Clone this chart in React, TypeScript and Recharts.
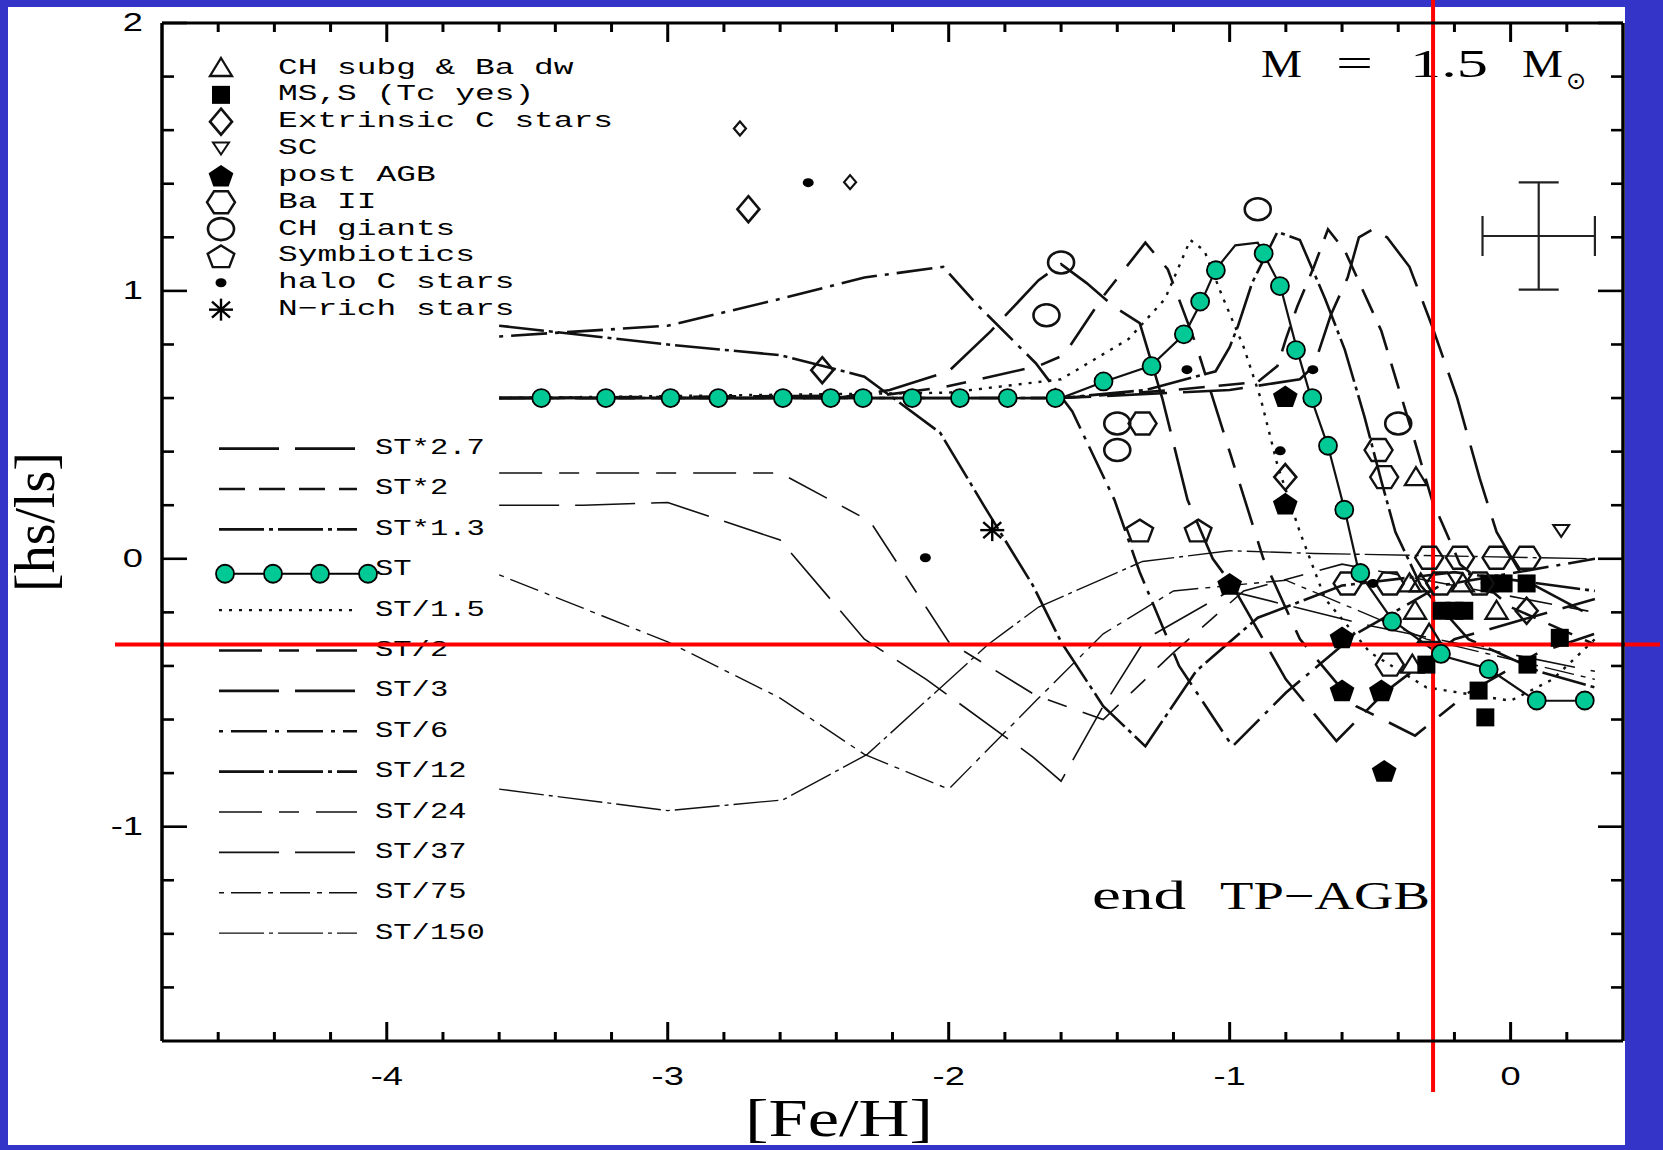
import React from 'react'
import {
  ComposedChart,
  Line,
  Scatter,
  XAxis,
  YAxis,
  ReferenceLine,
  ErrorBar,
} from 'recharts'

type P = [number, number]

// ---- model curves ([Fe/H], [hs/ls]) ----
const ST_X27: P[] = [[-3.6, 0.6], [-1.6, 0.6], [-1.0, 0.63], [-0.75, 0.67], [-0.7, 0.72], [-0.64, 0.91], [-0.58, 1.05], [-0.54, 1.2], [-0.49, 1.23], [-0.44, 1.2], [-0.36, 1.09], [-0.28, 0.87], [-0.19, 0.6], [-0.11, 0.3], [-0.05, 0.1], [0.05, -0.08], [0.3, -0.22]]
const ST_X2: P[] = [[-3.6, 0.6], [-1.6, 0.6], [-1.2, 0.63], [-0.9, 0.66], [-0.83, 0.72], [-0.8, 0.82], [-0.76, 0.94], [-0.7, 1.09], [-0.65, 1.23], [-0.59, 1.15], [-0.46, 0.85], [-0.35, 0.47], [-0.28, 0.22], [-0.18, -0.02], [0.0, -0.18], [0.3, -0.32]]
const ST_X13: P[] = [[-3.6, 0.6], [-1.6, 0.6], [-1.3, 0.63], [-1.05, 0.7], [-1.0, 0.79], [-0.97, 0.87], [-0.92, 1.03], [-0.83, 1.22], [-0.75, 1.19], [-0.66, 0.97], [-0.59, 0.78], [-0.52, 0.53], [-0.46, 0.29], [-0.41, 0.1], [-0.32, -0.1], [-0.15, -0.3], [0.1, -0.42], [0.3, -0.48]]
const ST_LINE: P[] = [[-3.6, 0.6], [-1.6, 0.6], [-1.45, 0.66], [-1.28, 0.72], [-1.16, 0.84], [-1.1, 0.96], [-1.05, 1.08], [-0.98, 1.17], [-0.9, 1.18], [-0.82, 1.02], [-0.76, 0.78], [-0.71, 0.6], [-0.65, 0.42], [-0.59, 0.18], [-0.54, -0.05], [-0.42, -0.23], [-0.25, -0.36], [-0.08, -0.41], [0.09, -0.53], [0.26, -0.53]]
const ST_D15: P[] = [[-3.6, 0.6], [-2.0, 0.62], [-1.6, 0.67], [-1.36, 0.82], [-1.23, 0.97], [-1.14, 1.19], [-1.09, 1.15], [-1.03, 0.99], [-0.95, 0.79], [-0.89, 0.6], [-0.83, 0.35], [-0.75, 0.1], [-0.66, -0.15], [-0.5, -0.35], [-0.3, -0.48], [0.0, -0.53], [0.15, -0.45], [0.3, -0.3]]
const ST_D2: P[] = [[-3.6, 0.6], [-2.24, 0.61], [-2.02, 0.64], [-1.68, 0.72], [-1.59, 0.76], [-1.45, 0.98], [-1.3, 1.18], [-1.22, 1.08], [-1.12, 0.8], [-1.0, 0.4], [-0.88, 0.0], [-0.75, -0.3], [-0.55, -0.55], [-0.34, -0.66], [-0.15, -0.5], [0.1, -0.35], [0.3, -0.28]]
const ST_D3: P[] = [[-3.6, 0.6], [-2.4, 0.6], [-2.21, 0.63], [-2.0, 0.7], [-1.85, 0.85], [-1.68, 1.04], [-1.6, 1.1], [-1.51, 1.03], [-1.41, 0.94], [-1.32, 0.88], [-1.24, 0.6], [-1.15, 0.22], [-1.06, 0.0], [-0.99, -0.1], [-0.8, -0.45], [-0.62, -0.68], [-0.45, -0.5], [-0.2, -0.3], [0.3, -0.15]]
const ST_D6: P[] = [[-3.6, 0.83], [-3.0, 0.87], [-2.6, 0.97], [-2.3, 1.05], [-2.02, 1.09], [-1.9, 0.95], [-1.69, 0.73], [-1.56, 0.55], [-1.41, 0.22], [-1.32, -0.05], [-1.18, -0.4], [-0.99, -0.7], [-0.8, -0.5], [-0.55, -0.28], [-0.25, -0.1], [0.3, 0.0]]
const ST_D12: P[] = [[-3.6, 0.87], [-3.0, 0.8], [-2.6, 0.76], [-2.3, 0.68], [-2.03, 0.47], [-1.87, 0.19], [-1.7, -0.1], [-1.6, -0.31], [-1.45, -0.55], [-1.3, -0.7], [-1.12, -0.42], [-0.9, -0.22], [-0.6, -0.1], [-0.2, -0.05], [0.3, -0.12]]
const ST_D24: P[] = [[-3.6, 0.32], [-2.6, 0.32], [-2.28, 0.14], [-2.0, -0.31], [-1.69, -0.51], [-1.45, -0.6], [-1.2, -0.35], [-0.95, -0.12], [-0.6, -0.02], [0.3, -0.2]]
const ST_D37: P[] = [[-3.6, 0.2], [-3.3, 0.2], [-3.0, 0.21], [-2.6, 0.07], [-2.3, -0.3], [-2.08, -0.45], [-1.7, -0.74], [-1.6, -0.83], [-1.45, -0.55], [-1.3, -0.3], [-1.0, -0.12], [-0.5, -0.25], [0.3, -0.42]]
const ST_D75: P[] = [[-3.6, -0.06], [-3.0, -0.31], [-2.6, -0.52], [-2.3, -0.73], [-2.0, -0.86], [-1.68, -0.52], [-1.45, -0.28], [-1.2, -0.12], [-0.8, -0.08], [-0.3, -0.3], [0.3, -0.45]]
const ST_D150: P[] = [[-3.6, -0.86], [-3.0, -0.94], [-2.59, -0.9], [-2.29, -0.73], [-1.86, -0.32], [-1.68, -0.18], [-1.31, -0.01], [-1.0, 0.03], [-0.7, 0.02], [0.3, 0.0]]

// green markers placed on the ST curve
const ST_MARKS: P[] = [[-3.45, 0.6], [-3.22, 0.6], [-2.99, 0.6], [-2.82, 0.6], [-2.59, 0.6], [-2.42, 0.6], [-2.305, 0.6], [-2.13, 0.6], [-1.96, 0.6], [-1.79, 0.6], [-1.62, 0.6], [-1.449, 0.662], [-1.278, 0.719], [-1.163, 0.838], [-1.105, 0.96], [-1.049, 1.077], [-0.879, 1.14], [-0.821, 1.018], [-0.764, 0.779], [-0.706, 0.6], [-0.65, 0.422], [-0.592, 0.183], [-0.535, -0.053], [-0.422, -0.234], [-0.248, -0.355], [-0.078, -0.412], [0.093, -0.529], [0.264, -0.529]]

// ---- observed stars ----
const CH_SUBG: P[] = [[-0.337, 0.305], [-0.36, -0.092], [-0.32, -0.092], [-0.17, -0.092], [-0.34, -0.194], [-0.05, -0.194], [-0.29, -0.28], [-0.35, -0.395]]
const MS_S: P[] = [[-0.075, -0.092], [-0.025, -0.092], [0.057, -0.092], [-0.245, -0.194], [-0.2, -0.194], [-0.165, -0.194], [0.175, -0.295], [-0.3, -0.395], [0.06, -0.395], [-0.114, -0.492], [-0.09, -0.592]]
const EXTR_C: P[] = [[-2.713, 1.305], [-2.45, 0.704], [-0.802, 0.305], [0.057, -0.194]]
const EXTR_C_SMALL: P[] = [[-2.743, 1.606], [-2.351, 1.406]]
const SC_STARS: P[] = [[0.18, 0.104]]
const POST_AGB: P[] = [[-0.802, 0.608], [-0.802, 0.207], [-1.0, -0.092], [-0.6, -0.292], [-0.6, -0.49], [-0.46, -0.49], [-0.45, -0.79]]
const BA_II: P[] = [[-1.31, 0.505], [-0.47, 0.406], [-0.45, 0.305], [-0.29, 0.004], [-0.18, 0.004], [-0.05, 0.004], [0.057, 0.004], [-0.58, -0.092], [-0.43, -0.092], [-0.25, -0.092], [-0.11, -0.092], [-0.43, -0.395]]
const CH_GIANTS: P[] = [[-0.9, 1.305], [-1.6, 1.106], [-1.652, 0.909], [-1.4, 0.505], [-1.4, 0.406], [-0.4, 0.505]]
const SYMBIOTICS: P[] = [[-1.32, 0.107], [-1.112, 0.107]]
const HALO_C: P[] = [[-2.5, 1.404], [-1.152, 0.706], [-0.704, 0.706], [-0.82, 0.403], [-2.083, 0.004], [-0.49, -0.092]]
const N_RICH: P[] = [[-1.845, 0.107]]

// typical error bar
const ERR_CROSS = [{ x: 0.1, y: 1.205, ex: 0.2, ey: 0.2 }]

// red guide lines
const RED_X = -0.276
const RED_Y = -0.32

const X_TICKS = [-4.6, -4.4, -4.2, -4, -3.8, -3.6, -3.4, -3.2, -3, -2.8, -2.6, -2.4, -2.2, -2, -1.8, -1.6, -1.4, -1.2, -1, -0.8, -0.6, -0.4, -0.2, 0, 0.2]
const Y_TICKS = [-1.6, -1.4, -1.2, -1, -0.8, -0.6, -0.4, -0.2, 0, 0.2, 0.4, 0.6, 0.8, 1, 1.2, 1.4, 1.6, 1.8, 2]
const X_LABELS = [-4, -3, -2, -1, 0]
const Y_LABELS = [-1, 0, 1, 2]

const W = 1663
const H = 1150
const X_GAP = 14
const Y_GAP = 19
const INK = '#111'
const GREEN = '#00c995'
const SANS = '"Liberation Sans", Arial, sans-serif'
const SERIF = '"Liberation Serif", "Times New Roman", serif'
const MONO = '"Liberation Mono", "Courier New", monospace'

const pts = (a: P[]) => a.map(([x, y]) => ({ x, y }))
const near = (v: number, arr: number[]) => arr.some((a) => Math.abs(a - v) < 1e-6)

const CURVES = [
  { name: 'ST*2.7', data: ST_X27, dash: '60 16', w: 2.6 },
  { name: 'ST*2', data: ST_X2, dash: '26 14', w: 2.6 },
  { name: 'ST*1.3', data: ST_X13, dash: '45 5 4 5', w: 2.6 },
  { name: 'ST', data: ST_LINE, dash: '', w: 2.2 },
  { name: 'ST/1.5', data: ST_D15, dash: '3 7', w: 2.4 },
  { name: 'ST/2', data: ST_D2, dash: '43 17 20 17', w: 2.6 },
  { name: 'ST/3', data: ST_D3, dash: '60 16', w: 2.6 },
  { name: 'ST/6', data: ST_D6, dash: '4 8 36 8', w: 2.6 },
  { name: 'ST/12', data: ST_D12, dash: '45 5 4 5', w: 2.6 },
  { name: 'ST/24', data: ST_D24, dash: '43 17 20 17', w: 1.6 },
  { name: 'ST/37', data: ST_D37, dash: '60 16', w: 1.6 },
  { name: 'ST/75', data: ST_D75, dash: '5 7 30 7', w: 1.4 },
  { name: 'ST/150', data: ST_D150, dash: '45 5 4 5', w: 1.4 },
]

const pent = (cx: number, cy: number, rx: number, ry: number) =>
  [-90, -18, 54, 126, 198]
    .map((a) => {
      const r = (a * Math.PI) / 180
      return `${cx + rx * Math.cos(r)},${cy + 1.5 + ry * Math.sin(r)}`
    })
    .join(' ')

function Sym({ kind, cx, cy }: { kind: string; cx: number; cy: number }) {
  switch (kind) {
    case 'tri':
      return <polygon points={`${cx},${cy - 10} ${cx + 11},${cy + 8} ${cx - 11},${cy + 8}`} fill="none" stroke={INK} strokeWidth={2.3} />
    case 'sq':
      return <rect x={cx - 9} y={cy - 9} width={18} height={18} fill="#000" />
    case 'dia':
      return <polygon points={`${cx},${cy - 13} ${cx + 11},${cy} ${cx},${cy + 13} ${cx - 11},${cy}`} fill="none" stroke={INK} strokeWidth={2.6} />
    case 'diaS':
      return <polygon points={`${cx},${cy - 7} ${cx + 6},${cy} ${cx},${cy + 7} ${cx - 6},${cy}`} fill="none" stroke={INK} strokeWidth={2.2} />
    case 'sc':
      return <polygon points={`${cx - 8},${cy - 6} ${cx + 8},${cy - 6} ${cx},${cy + 6}`} fill="none" stroke={INK} strokeWidth={2} />
    case 'pentF':
      return <polygon points={pent(cx, cy, 13, 12)} fill="#000" />
    case 'hex':
      return <polygon points={`${cx - 14},${cy} ${cx - 7},${cy - 11} ${cx + 7},${cy - 11} ${cx + 14},${cy} ${cx + 7},${cy + 11} ${cx - 7},${cy + 11}`} fill="none" stroke={INK} strokeWidth={2.4} />
    case 'circ':
      return <ellipse cx={cx} cy={cy} rx={13} ry={11} fill="none" stroke={INK} strokeWidth={2.6} />
    case 'pentO':
      return <polygon points={pent(cx, cy, 14, 12)} fill="none" stroke={INK} strokeWidth={2.4} />
    case 'dot':
      return <ellipse cx={cx} cy={cy} rx={5.5} ry={4.5} fill="#000" />
    case 'star':
      return (
        <g stroke="#000" strokeWidth={2.4}>
          <line x1={cx - 12} x2={cx + 12} y1={cy} y2={cy} />
          <line x1={cx} x2={cx} y1={cy - 11} y2={cy + 11} />
          <line x1={cx - 9} x2={cx + 9} y1={cy - 8} y2={cy + 8} />
          <line x1={cx - 9} x2={cx + 9} y1={cy + 8} y2={cy - 8} />
        </g>
      )
    case 'green':
      return <circle cx={cx} cy={cy} r={9} fill={GREEN} stroke="#000" strokeWidth={1.8} />
    default:
      return <g />
  }
}

const STAR_SETS = [
  { kind: 'tri', data: CH_SUBG },
  { kind: 'sq', data: MS_S },
  { kind: 'dia', data: EXTR_C },
  { kind: 'diaS', data: EXTR_C_SMALL },
  { kind: 'sc', data: SC_STARS },
  { kind: 'pentF', data: POST_AGB },
  { kind: 'hex', data: BA_II },
  { kind: 'circ', data: CH_GIANTS },
  { kind: 'pentO', data: SYMBIOTICS },
  { kind: 'dot', data: HALO_C },
  { kind: 'star', data: N_RICH },
]

const SYMBOL_LEGEND = [
  { kind: 'tri', label: 'CH subg & Ba dw' },
  { kind: 'sq', label: 'MS,S (Tc yes)' },
  { kind: 'dia', label: 'Extrinsic C stars' },
  { kind: 'sc', label: 'SC' },
  { kind: 'pentF', label: 'post AGB' },
  { kind: 'hex', label: 'Ba II' },
  { kind: 'circ', label: 'CH giants' },
  { kind: 'pentO', label: 'Symbiotics' },
  { kind: 'dot', label: 'halo C stars' },
  { kind: 'star', label: 'N\u2212rich stars' },
]

const fmt = (v: number) => String(Math.round(v))

function TickText({ x, y, anchor, v }: { x: number; y: number; anchor: string; v: number }) {
  return (
    <text
      transform={`translate(${x} ${y}) scale(1.45 1)`}
      textAnchor={anchor as any}
      dominantBaseline="central"
      fontSize={25}
      fontFamily={SANS}
      fill="#000"
    >
      {fmt(v)}
    </text>
  )
}

function BottomTick(p: any) {
  const { x, y, payload } = p
  const major = near(payload.value, X_LABELS)
  const ay = y - X_GAP
  return (
    <g>
      <line x1={x} x2={x} y1={ay} y2={ay - (major ? 19 : 9)} stroke="#000" strokeWidth={3} />
      {major && <TickText x={x} y={ay + 36} anchor="middle" v={payload.value} />}
    </g>
  )
}

function TopTick(p: any) {
  const { x, y, payload } = p
  const major = near(payload.value, X_LABELS)
  return <line x1={x} x2={x} y1={y} y2={y + (major ? 19 : 9)} stroke="#000" strokeWidth={3} />
}

function LeftTick(p: any) {
  const { x, y, payload } = p
  const major = near(payload.value, Y_LABELS)
  const ax = x + Y_GAP
  return (
    <g>
      <line x1={ax} x2={ax + (major ? 25 : 12)} y1={y} y2={y} stroke="#000" strokeWidth={2.6} />
      {major && <TickText x={x} y={y} anchor="end" v={payload.value} />}
    </g>
  )
}

function RightTick(p: any) {
  const { x, y, payload } = p
  const major = near(payload.value, Y_LABELS)
  return <line x1={x} x2={x - (major ? 25 : 12)} y1={y} y2={y} stroke="#000" strokeWidth={2.6} />
}

function RedV(p: any) {
  const top = Math.min(p.y1, p.y2)
  const bot = Math.max(p.y1, p.y2)
  return <line x1={p.x1} x2={p.x2} y1={top - 23} y2={bot + 51} stroke="#ff0000" strokeWidth={4} />
}

function RedH(p: any) {
  const l = Math.min(p.x1, p.x2)
  const r = Math.max(p.x1, p.x2)
  return <line x1={l - 47} x2={r + 37} y1={p.y1} y2={p.y2} stroke="#ff0000" strokeWidth={4} />
}

function XTitle() {
  return (
    <text x={745} y={1136} fontFamily={SERIF} fontSize={52} textLength={188} lengthAdjust="spacingAndGlyphs" fill="#000">
      [Fe/H]
    </text>
  )
}

function YTitle() {
  return (
    <text transform="translate(54 522) rotate(-90)" textAnchor="middle" fontFamily={SERIF} fontSize={56} fill="#000">
      [hs/ls]
    </text>
  )
}

function Overlay() {
  const symY = (i: number) => 68 + i * 26.85
  const lineY = (i: number) => 448.6 + i * 40.38
  return (
    <svg width={W} height={H} style={{ position: 'absolute', left: 0, top: 0 }}>
      {SYMBOL_LEGEND.map((s, i) => (
        <g key={s.label}>
          <Sym kind={s.kind} cx={221} cy={symY(i)} />
          <text
            x={278}
            y={symY(i)}
            dominantBaseline="central"
            fontFamily={MONO}
            fontSize={22}
            textLength={s.label.length * 19.7}
            lengthAdjust="spacingAndGlyphs"
            fill="#000"
          >
            {s.label}
          </text>
        </g>
      ))}
      {CURVES.map((c, i) => (
        <g key={c.name}>
          {c.name === 'ST' ? (
            <g>
              <line x1={225} x2={368} y1={lineY(i) + 4} y2={lineY(i) + 4} stroke="#000" strokeWidth={2.2} />
              {[225, 273, 320, 368].map((cx) => (
                <Sym key={cx} kind="green" cx={cx} cy={lineY(i) + 4} />
              ))}
            </g>
          ) : (
            <line x1={219} x2={357} y1={lineY(i)} y2={lineY(i)} stroke={INK} strokeWidth={c.w} strokeDasharray={c.dash} />
          )}
          <text
            x={375}
            y={lineY(i)}
            dominantBaseline="central"
            fontFamily={MONO}
            fontSize={22}
            textLength={c.name.length * 18.3}
            lengthAdjust="spacingAndGlyphs"
            fill="#000"
          >
            {c.name}
          </text>
        </g>
      ))}
      <g fontFamily={SERIF} fontSize={40} fill="#000">
        <text x={1261} y={77} textLength={41} lengthAdjust="spacingAndGlyphs">M</text>
        <text x={1336} y={77} textLength={37} lengthAdjust="spacingAndGlyphs">=</text>
        <text x={1410} y={77} textLength={78} lengthAdjust="spacingAndGlyphs">1.5</text>
        <text x={1522} y={77} textLength={41} lengthAdjust="spacingAndGlyphs">M</text>
        <text x={1566} y={89} fontSize={24} fontFamily='"DejaVu Sans", sans-serif'>{'\u2299'}</text>
        <text x={1092} y={909} textLength={94} lengthAdjust="spacingAndGlyphs">end</text>
        <text x={1220} y={909} textLength={210} lengthAdjust="spacingAndGlyphs">{'TP\u2212AGB'}</text>
      </g>
    </svg>
  )
}

export default function App() {
  return (
    <div style={{ position: 'absolute', left: 0, top: 0, width: W, height: H, background: '#3434c8', overflow: 'hidden' }}>
      <div style={{ position: 'absolute', left: 8, top: 7, width: 1617, height: 1138, background: '#fff' }} />
      <Overlay />
      <div style={{ position: 'absolute', left: 0, top: 0 }}>
        <ComposedChart width={W} height={H} margin={{ top: 0, right: 0, bottom: 0, left: 0 }}>
          <XAxis
            xAxisId="b"
            type="number"
            dataKey="x"
            domain={[-4.8, 0.4]}
            allowDataOverflow
            ticks={X_TICKS}
            interval={0}
            height={109}
            tickSize={0}
            tickMargin={X_GAP}
            tickLine={false}
            tick={(p: any) => <BottomTick {...p} />}
            axisLine={{ stroke: '#000', strokeWidth: 3 }}
            label={<XTitle />}
          />
          <XAxis
            xAxisId="t"
            orientation="top"
            type="number"
            dataKey="x"
            domain={[-4.8, 0.4]}
            allowDataOverflow
            ticks={X_TICKS}
            interval={0}
            height={23}
            tickSize={0}
            tickMargin={0}
            tickLine={false}
            tick={(p: any) => <TopTick {...p} />}
            axisLine={{ stroke: '#000', strokeWidth: 3 }}
          />
          <YAxis
            yAxisId="l"
            type="number"
            dataKey="y"
            domain={[-1.8, 2]}
            allowDataOverflow
            ticks={Y_TICKS}
            interval={0}
            width={162}
            tickSize={0}
            tickMargin={Y_GAP}
            tickLine={false}
            tick={(p: any) => <LeftTick {...p} />}
            axisLine={{ stroke: '#000', strokeWidth: 3.5 }}
            label={<YTitle />}
          />
          <YAxis
            yAxisId="r"
            orientation="right"
            type="number"
            dataKey="y"
            domain={[-1.8, 2]}
            allowDataOverflow
            ticks={Y_TICKS}
            interval={0}
            width={40}
            tickSize={0}
            tickMargin={0}
            tickLine={false}
            tick={(p: any) => <RightTick {...p} />}
            axisLine={{ stroke: '#000', strokeWidth: 3.5 }}
          />

          {CURVES.map((c) => (
            <Line
              key={c.name}
              xAxisId="b"
              yAxisId="l"
              data={pts(c.data)}
              dataKey="y"
              type="linear"
              stroke={INK}
              strokeWidth={c.w}
              strokeDasharray={c.dash || undefined}
              dot={false}
              activeDot={false}
              isAnimationActive={false}
            />
          ))}

          {STAR_SETS.map((s) => (
            <Scatter
              key={s.kind}
              xAxisId="b"
              yAxisId="l"
              data={pts(s.data)}
              shape={(p: any) => <Sym kind={s.kind} cx={p.cx} cy={p.cy} />}
              isAnimationActive={false}
            />
          ))}

          <Scatter
            xAxisId="b"
            yAxisId="l"
            data={pts(ST_MARKS)}
            shape={(p: any) => <Sym kind="green" cx={p.cx} cy={p.cy} />}
            isAnimationActive={false}
          />

          <Scatter
            xAxisId="b"
            yAxisId="l"
            data={ERR_CROSS}
            shape={() => <g />}
            isAnimationActive={false}
          >
            <ErrorBar dataKey="ex" direction="x" width={20} stroke="#222" strokeWidth={2.2} isAnimationActive={false} />
            <ErrorBar dataKey="ey" direction="y" width={20} stroke="#222" strokeWidth={2.2} isAnimationActive={false} />
          </Scatter>

          <ReferenceLine xAxisId="b" yAxisId="l" x={RED_X} ifOverflow="visible" shape={(p: any) => <RedV {...p} />} />
          <ReferenceLine xAxisId="b" yAxisId="l" y={RED_Y} ifOverflow="visible" shape={(p: any) => <RedH {...p} />} />
        </ComposedChart>
      </div>
    </div>
  )
}
